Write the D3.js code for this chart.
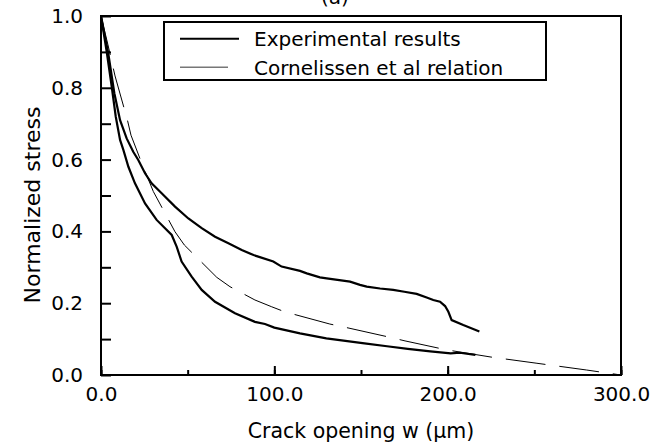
<!DOCTYPE html>
<html>
<head>
<meta charset="utf-8">
<script src="https://cdn.jsdelivr.net/npm/d3@7"></script>
<style>
  body { margin: 0; background: #fff; }
  svg text { font-family: "DejaVu Sans", sans-serif; fill: #000; }
</style>
</head>
<body>
<div id="chart"></div>
<script>
// upper bound of the experimental band [w (um), normalized stress]
const experimentalUpper = [
  [0, 1.0], [2, 0.95], [4.2, 0.896], [7.7, 0.785], [11, 0.71], [14.8, 0.659],
  [18.6, 0.622], [21.5, 0.599], [25.4, 0.562], [29.2, 0.534], [35, 0.506],
  [42.7, 0.469], [50.4, 0.436], [58.1, 0.409], [65.8, 0.385], [73.5, 0.367],
  [81.2, 0.348], [88, 0.334], [99.4, 0.316], [104.2, 0.302], [114.8, 0.29],
  [118.7, 0.283], [126.3, 0.272], [130.2, 0.269], [143.7, 0.26], [149.4, 0.251],
  [153.3, 0.246], [161, 0.241], [168.6, 0.237], [175, 0.232], [182.1, 0.226],
  [187.9, 0.216], [191.7, 0.209], [195.6, 0.204], [198.5, 0.192], [200.4, 0.176],
  [202.3, 0.153], [209, 0.139], [218.3, 0.121]
];

// lower bound of the experimental band
const experimentalLower = [
  [0, 1.0], [3.3, 0.9], [6.2, 0.803], [8.5, 0.72], [11, 0.655], [12.9, 0.627],
  [15.8, 0.58], [19.6, 0.534], [25.4, 0.478], [32.1, 0.432], [40.8, 0.39],
  [43.7, 0.357], [46.5, 0.316], [52.3, 0.274], [58.1, 0.237], [65.8, 0.204],
  [77.3, 0.172], [88.8, 0.148], [94.6, 0.142], [100, 0.132], [114.8, 0.116],
  [130, 0.102], [152, 0.088], [165, 0.08], [177, 0.073], [190, 0.066],
  [201.7, 0.06], [207, 0.062], [216, 0.056]
];

// Cornelissen et al relation
const cornelissen = [
  [0, 1.0], [4, 0.92], [8.1, 0.833], [15.2, 0.711], [17.3, 0.668], [23.5, 0.59],
  [30.2, 0.511], [42.7, 0.399], [48.1, 0.362], [66.8, 0.272], [74.4, 0.246],
  [88.8, 0.209], [98.5, 0.19], [106, 0.176], [132, 0.142], [140.8, 0.133],
  [166.7, 0.105], [175.4, 0.095], [199.4, 0.07], [225, 0.05], [251, 0.033],
  [280, 0.014], [300, 0]
];

const xTickLabels = [0, 100, 200, 300];
const yTickLabels = [0, 0.2, 0.4, 0.6, 0.8, 1.0];
const legendLabels = ["Experimental results", "Cornelissen et al relation"];

const W = 669, H = 444;
const margin = {top: 16, right: 48, bottom: 69, left: 101};
const width = W - margin.left - margin.right;
const height = H - margin.top - margin.bottom;

const svg = d3.select("#chart").append("svg")
    .attr("width", W)
    .attr("height", H);

const g = svg.append("g")
    .attr("transform", "translate(" + margin.left + "," + margin.top + ")");

const x = d3.scaleLinear().domain([0, 300]).range([0, width]);
const y = d3.scaleLinear().domain([0, 1]).range([height, 0]);

// frame
g.append("rect")
    .attr("width", width)
    .attr("height", height)
    .attr("fill", "none")
    .attr("stroke", "#000")
    .attr("stroke-width", 2);

// x axis: inward ticks, long at labels, short in between
g.append("g")
    .attr("transform", "translate(0," + height + ")")
    .call(d3.axisBottom(x).tickValues(d3.range(0, 301, 50)).tickSize(-5).tickFormat(""))
    .call(a => a.select(".domain").remove())
    .call(a => a.selectAll("line").attr("stroke-width", 2));
g.append("g")
    .attr("transform", "translate(0," + height + ")")
    .call(d3.axisBottom(x).tickValues(xTickLabels).tickSize(-9).tickPadding(12)
        .tickFormat(d3.format(".1f")))
    .call(a => a.select(".domain").remove())
    .call(a => a.selectAll("line").attr("stroke-width", 2))
    .call(a => a.selectAll("text").attr("font-size", 20).attr("font-family", "DejaVu Sans"));

// y axis
g.append("g")
    .call(d3.axisLeft(y).tickValues(d3.range(0, 1.01, 0.1)).tickSize(-10).tickFormat(""))
    .call(a => a.select(".domain").remove())
    .call(a => a.selectAll("line").attr("stroke-width", 2));
g.append("g")
    .call(d3.axisLeft(y).tickValues(yTickLabels).tickSize(0).tickPadding(18)
        .tickFormat(d3.format(".1f")))
    .call(a => a.select(".domain").remove())
    .call(a => a.selectAll("text").attr("font-size", 20).attr("font-family", "DejaVu Sans"));

const line = d3.line()
    .x(d => x(d[0]))
    .y(d => y(d[1]));

g.append("path")
    .datum(experimentalUpper)
    .attr("fill", "none")
    .attr("stroke", "#000")
    .attr("stroke-width", 2.2)
    .attr("d", line);

g.append("path")
    .datum(experimentalLower)
    .attr("fill", "none")
    .attr("stroke", "#000")
    .attr("stroke-width", 2.2)
    .attr("d", line);

g.append("path")
    .datum(cornelissen)
    .attr("fill", "none")
    .attr("stroke", "#000")
    .attr("stroke-width", 1)
    .attr("stroke-dasharray", "40,14")
    .attr("d", line);

// legend
const legend = svg.append("g").attr("transform", "translate(164,22)");
legend.append("rect")
    .attr("width", 382)
    .attr("height", 58)
    .attr("fill", "#fff")
    .attr("stroke", "#000")
    .attr("stroke-width", 2);
legendLabels.forEach((label, i) => {
  const row = legend.append("g").attr("transform", "translate(0," + (16.7 + i * 28.6) + ")");
  row.append("line")
      .attr("x1", 16).attr("x2", i == 0 ? 75 : 64)
      .attr("stroke", i == 0 ? "#000" : "#777")
      .attr("stroke-width", i == 0 ? 2 : 1.5);
  row.append("text")
      .attr("x", 90)
      .attr("y", 7.6)
      .attr("font-size", 20)
      .text(label);
});

// axis titles
svg.append("text")
    .attr("x", margin.left + width / 2)
    .attr("y", 438)
    .attr("text-anchor", "middle")
    .attr("font-size", 20.5)
    .text("Crack opening w (\u03bcm)");

svg.append("text")
    .attr("transform", "translate(40,205) rotate(-90)")
    .attr("text-anchor", "middle")
    .attr("font-size", 22)
    .text("Normalized stress");

// panel label, mostly cut off at the top edge
svg.append("text")
    .attr("x", 335)
    .attr("y", 4)
    .attr("text-anchor", "middle")
    .attr("font-size", 20)
    .text("(a)");
</script>
</body>
</html>
